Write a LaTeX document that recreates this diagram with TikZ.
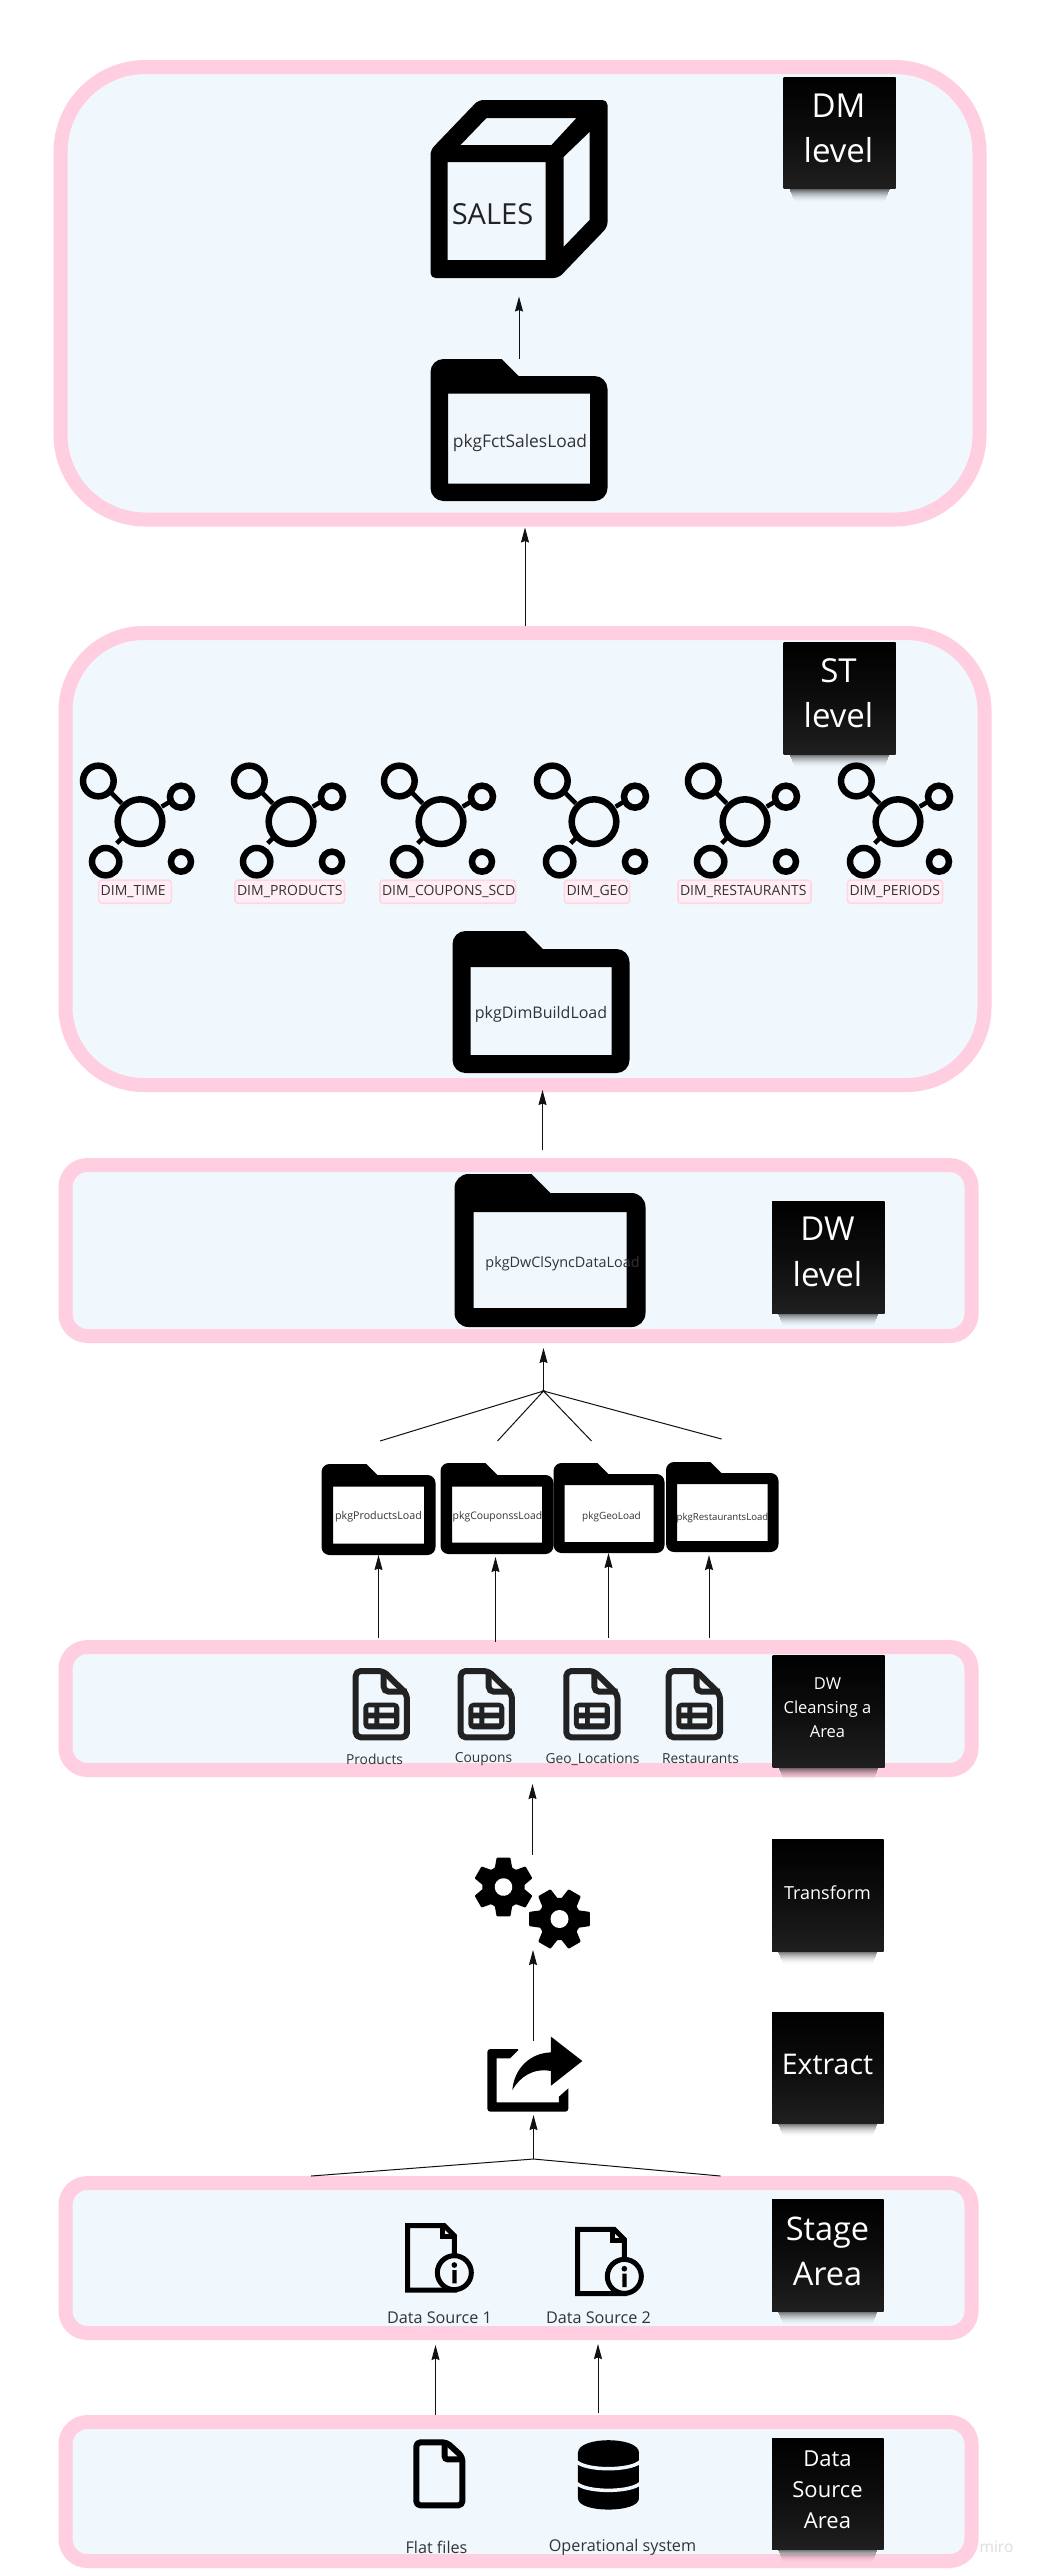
\documentclass[tikz,border=0pt]{standalone}
\usepackage{fontspec}
\setmainfont{Open Sans}
\usetikzlibrary{arrows.meta,fit}
\definecolor{panel}{HTML}{F0F8FE}
\definecolor{rim}{HTML}{FFCEE0}
\definecolor{tagfill}{HTML}{FFEFF5}
\definecolor{tagrim}{HTML}{FFD6E5}
\definecolor{ink}{HTML}{000000}
\definecolor{softink}{HTML}{222222}
\definecolor{labelink}{HTML}{333333}
\definecolor{notelow}{HTML}{1F1F1F}
\definecolor{wire}{HTML}{111111}
\tikzset{
  band/.style={draw=rim,fill=panel,line width=14pt,rounded corners=#1,inner sep=0pt},
  anchorbox/.style={inner sep=0pt,outer sep=0pt},
  noteface/.style={anchorbox,top color=black,bottom color=notelow,middle color=black!95},
  notetext/.style={text=white,align=center,inner sep=0pt},
  flow/.style={draw=wire,line width=1pt,-{Stealth[length=15pt,width=8pt,inset=1.5pt]}},
  twig/.style={draw=wire,line width=1pt},
  caption/.style={text=labelink,inner sep=0pt,font=\fontsize{#1}{#1}\selectfont},
  dimtag/.style={draw=tagrim,fill=tagfill,line width=1.6pt,rounded corners=3pt,minimum height=23pt,
    inner xsep=2pt,inner ysep=0pt,align=left,text=labelink,font=\fontsize{14}{14}\selectfont},
}
% name x1 y1 x2 y2 tabx taby thickness radius
\newcommand{\folderbox}[9]{%
  \node[anchorbox,fit={(#2,#3)(#4,#5)}] (#1) {};
  \fill[ink,even odd rule] (#2,{(#3+#5)/2}) [rounded corners=#9pt] -- (#2,#3) [sharp corners] -- (#6,#3)
     -- (#6+#7-#3,#7) [rounded corners=#9pt] -- (#4,#7) -- (#4,#5) -- (#2,#5) [sharp corners] -- cycle
     (#2+#8,#7+#8) rectangle (#4-#8,#5-#8);
}
% name x1 y1 x2 y2: the card and its soft shadow
\newcommand{\notecard}[5]{%
  \foreach \i in {0,...,13} {
    \pgfmathsetmacro{\shadeop}{0.6*(1-\i/14)*(1-\i/14)}
    \fill[black,opacity=\shadeop] (#2+6+0.4*\i,#5+\i) rectangle (#4-6-0.4*\i,#5+\i+1);
  }
  \node[noteface,fit={(#2,#3)(#4,#5)}] (#1) {};
}
% hub icon at horizontal offset
\newcommand{\hubicon}[1]{%
  \begin{scope}[shift={(71.5+#1,755)},x=0.3333pt,y=-0.3333pt]
    \draw[line width=4.5pt] (125,115) -- (155,145) (275,155) -- (300,140) (140,265) -- (165,240);
    \draw[line width=6.5pt] (210,200) circle[radius=67] (85,78) circle[radius=46]
       (333,125) circle[radius=33] (107,320) circle[radius=41] (333,320) circle[radius=30];
  \end{scope}
}
% table document icon
\newcommand{\tabledoc}[1]{%
  \begin{scope}[shift={(341.5+#1,1660)},x=0.3333pt,y=-0.3333pt]
    \draw[softink,fill=panel,line width=6pt,line join=round,rounded corners=5pt]
       (47,130) -- (47,33) -- (130,33) -- (201,103) -- (201,232) -- (47,232) -- cycle;
    \draw[softink,line width=6pt,rounded corners=5pt] (131,33) -- (131,95) -- (201,95);
    \fill[softink,rounded corners=5pt] (70,128) rectangle (178,208);
    \fill[panel] (85,142) rectangle (103,158) (118,142) rectangle (162,158)
                 (85,175) rectangle (103,190) (118,175) rectangle (162,190);
  \end{scope}
}
% info document icon
\newcommand{\infodoc}[2]{%
  \begin{scope}[shift={(396.5+#1,2215+#2)},x=0.3333pt,y=-0.3333pt]
    \draw[ink,fill=panel,line width=5pt,line join=miter]
       (38,32) -- (148,32) -- (178,62) -- (178,225) -- (38,225) -- cycle;
    \draw[ink,line width=5pt] (143,32) -- (143,65) -- (178,65);
    \draw[ink,fill=panel,line width=5pt] (178,173) circle[radius=51];
    \fill[ink] (178,150) circle[radius=8.5] (172,165) rectangle (185,205);
  \end{scope}
}
% gear: cx cy rotation tip-radius hole-radius
\newcommand{\gearicon}[5]{%
  \begin{scope}[shift={(#1,#2)},rotate=#3]
    \filldraw[ink,line width=2pt,line join=round] (-22:20.5)
      \foreach \a in {0,60,...,300} { -- (\a-22:20.5) -- (\a-12:#4-1) -- (\a+12:#4-1) -- (\a+22:20.5) -- (\a+30:20) } -- cycle;
    \fill[white] (0,0) circle[radius=#5];
  \end{scope}
}
\begin{document}
\begin{tikzpicture}[x=1pt,y=-1pt]
\useasboundingbox (0,0) rectangle (1037,2575);
\fill[white] (0,0) rectangle (1037,2575);
\begin{scope}[xshift=-1.5pt]

% bands
\node[band=85pt,minimum width=919pt,minimum height=452.5pt] (dm) at (521.5,293.25) {};
\node[band=78pt,minimum width=919pt,minimum height=452pt] (st) at (526.5,859) {};
\node[band=22pt,minimum width=906pt,minimum height=171pt] (dw) at (520,1250.5) {};
\node[band=22pt,minimum width=906pt,minimum height=123pt] (cl) at (520,1708.5) {};
\node[band=22pt,minimum width=906pt,minimum height=150pt] (stage) at (520,2258) {};
\node[band=22pt,minimum width=906pt,minimum height=139pt] (src) at (520,2491.5) {};

% notes
\notecard{ndm}{785}{77}{897}{188.5}
\node[notetext,font=\fontsize{33}{45}\selectfont] at (840,128) {DM\\level};
\notecard{nst}{785}{642}{897}{754}
\node[notetext,font=\fontsize{33}{45}\selectfont] at (840,693.5) {ST\\level};
\notecard{ndw}{773.5}{1201}{886}{1313}
\node[notetext,font=\fontsize{33}{46}\selectfont] at (829,1251.5) {DW\\level};
\notecard{ncl}{774}{1655}{886}{1767}
\node[notetext,font=\fontsize{16.5}{24}\selectfont] at (829,1708) {DW\\Cleansing a\\Area};
\notecard{ntr}{773.5}{1839}{885}{1951}
\node[notetext,font=\fontsize{18}{24}\selectfont] at (829,1893) {Transform};
\notecard{nex}{773.5}{2012}{885}{2123}
\node[notetext,font=\fontsize{28.5}{36}\selectfont] at (829,2064) {Extract};
\notecard{nsa}{773.5}{2199}{885}{2311}
\node[notetext,font=\fontsize{32.5}{45}\selectfont] at (829,2251.5) {Stage\\Area};
\notecard{nds}{773.5}{2438}{885}{2549}
\node[notetext,font=\fontsize{22}{31}\selectfont] at (829,2490) {Data\\Source\\Area};

% cube
\node[anchorbox,fit={(432,100)(609,278)}] (sales) {};
\fill[ink,even odd rule,rounded corners=5pt] (480,100) -- (609,100) -- (609,227) -- (560,278) -- (432,278) -- (432,150) -- cycle
  [sharp corners] (449,162) rectangle (547,260)
  (488,118) -- (578,118) -- (553,145) -- (462,145) -- cycle
  (565,157) -- (591,132) -- (591,220) -- (565,247) -- cycle;
\node[text=softink,inner sep=0pt,font=\fontsize{29}{29}\selectfont] at (494,214) {SALES};

% big folders
\folderbox{fct}{432}{359}{609}{501}{503}{376}{17.5}{13}
\node[caption=17.4] at (521.5,443) {pkgFctSalesLoad};
\folderbox{dim}{454}{931}{631}{1073}{526.5}{949}{18}{13}
\node[caption=16] at (542.5,1014) {pkgDimBuildLoad};
\folderbox{dwc}{456}{1174}{647}{1327}{533}{1193}{19}{14}
\node[caption=14.4] at (564,1264) {pkgDwClSyncDataLoad};

% hubs and tags
\hubicon{0}\hubicon{151}\hubicon{301}\hubicon{454}\hubicon{605}\hubicon{758}
\node[dimtag,text width=68.7pt] (dtime) at (136.5,891.7) {DIM\_TIME};
\node[dimtag,text width=105.5pt] (dprod) at (291.25,891.7) {DIM\_PRODUCTS};
\node[dimtag,text width=131.5pt] (dcoup) at (449.25,891.7) {DIM\_COUPONS\_SCD};
\node[dimtag,text width=61pt] (dgeo) at (598.5,891.7) {DIM\_GEO};
\node[dimtag,text width=129pt] (drest) at (746,891.7) {DIM\_RESTAURANTS};
\node[dimtag,text width=91pt] (dper) at (896.5,891.7) {DIM\_PERIODS};

% small folders
\folderbox{fp}{323}{1464}{437}{1555}{368}{1475}{11.5}{8}
\node[caption=10.7] at (380,1517) {pkgProductsLoad};
\folderbox{fc}{442}{1463}{555}{1554}{487}{1475}{11.5}{8}
\node[caption=10.4] at (499,1517) {pkgCouponssLoad};
\folderbox{fg}{555}{1463}{666}{1553}{599}{1474}{11}{8}
\node[caption=10] at (613,1517) {pkgGeoLoad};
\folderbox{fr}{667.5}{1462}{780}{1552}{712}{1473}{11}{8}
\node[caption=9.6] at (724,1518) {pkgRestaurantsLoad};

% table documents
\tabledoc{0}\tabledoc{105}\tabledoc{210.6}\tabledoc{313}
\node[caption=13.8] at (376,1759) {Products};
\node[caption=13.8] at (485,1759) {Coupons};
\node[caption=13.8] at (594,1759) {Geo\_Locations};
\node[caption=13.8] at (702,1759) {Restaurants};

% gears
\node[anchorbox,fit={(475.5,1857)(591,1948)}] (gears) {};
\gearicon{505}{1887}{30}{30}{8.8}
\gearicon{561}{1919}{0}{31}{9}

% share
\node[anchorbox,fit={(488,2037)(583,2112)}] (share) {};
\begin{scope}[shift={(476.5,2025)},x=0.3333pt,y=-0.3333pt]
  \fill[ink,rounded corners=1.5pt] (37,72) -- (133,72) [sharp corners] -- (105,100) -- (65,100) -- (65,232) -- (252,232) -- (252,215) -- (280,190) [rounded corners=3pt] -- (280,260) -- (37,260) -- cycle;
  \fill[ink] (228,35) -- (322,108) -- (228,182) -- (228,138) .. controls (175,128) and (135,155) .. (112,195) .. controls (118,130) and (165,84) .. (228,82) -- cycle;
\end{scope}

% data sources
\infodoc{0}{0}\infodoc{170}{3.7}
\node[caption=16.2] at (441,2318) {Data Source 1};
\node[caption=16.2] at (600,2318) {Data Source 2};

% flat file and database
\begin{scope}[shift={(401.5,2430)},x=0.3333pt,y=-0.3333pt]
  \draw[ink,fill=panel,line width=6pt,line join=round,rounded corners=4pt]
     (49,120) -- (49,37) -- (140,37) -- (187,80) -- (187,226) -- (49,226) -- cycle;
  \draw[ink,line width=6pt,rounded corners=3pt] (134,37) -- (134,88) -- (187,88);
  \fill[ink] (534,68) .. controls (534,18) and (717,18) .. (717,68) -- (717,205)
     .. controls (717,250) and (534,250) .. (534,205) -- cycle;
  \draw[panel,line width=3.5pt] (530,95) .. controls (560,123) and (690,123) .. (721,95);
  \draw[panel,line width=3.5pt] (530,160) .. controls (560,188) and (690,188) .. (721,160);
\end{scope}
\node[caption=16.2] at (438,2547) {Flat files};
\node[caption=16.2] at (624,2547) {Operational system};
\node[text=black!13,inner sep=0pt,font=\fontsize{15.5}{15.5}\selectfont] at (998,2547) {miro};

% connectors
\draw[flow] (fct.north) -- ([yshift=-18.5pt]sales.south);
\draw[flow] (st.north) -- ([xshift=5pt,yshift=-1pt]dm.south);
\draw[flow] ([xshift=24pt,yshift=8pt]dw.north) -- ([xshift=17.5pt,yshift=2pt]st.south);
\coordinate (jdw) at (545,1391);
\coordinate (e1) at (381.5,1441);
\coordinate (e2) at (499,1441);
\coordinate (e3) at (593,1441);
\coordinate (e4) at (723,1439);
\draw[flow] (jdw) -- ([xshift=25pt,yshift=-5pt]dw.south);
\draw[twig] (e1) -- (jdw) -- (e2) (e3) -- (jdw) -- (e4);
\draw[flow] ([xshift=-140pt,yshift=2pt]cl.north) -- (fp.south);
\draw[flow] ([xshift=-23pt,yshift=-2pt]cl.north) -- ([xshift=-1.5pt,yshift=-3pt]fc.south);
\draw[flow] ([xshift=90pt,yshift=2pt]cl.north) -- ([xshift=-0.5pt]fg.south);
\draw[flow] ([xshift=190.5pt,yshift=2pt]cl.north) -- ([xshift=-13.25pt,yshift=-3pt]fr.south);
\draw[flow] ([xshift=0.75pt,yshift=2pt]gears.north) -- ([xshift=14pt,yshift=-7pt]cl.south);
\draw[flow] ([xshift=-1pt,yshift=-4pt]share.north) -- ([xshift=1.25pt,yshift=-2pt]gears.south);
\coordinate (jsh) at (535,2159);
\coordinate (e5) at (312.6,2176);
\coordinate (e6) at (722,2176);
\draw[flow] (jsh) -- ([xshift=-0.5pt,yshift=-3pt]share.south);
\draw[twig] (e5) -- (jsh) -- (e6);
\draw[flow] ([xshift=-83pt]src.north) -- ([xshift=-83pt,yshift=-5pt]stage.south);
\draw[flow] ([xshift=79.5pt,yshift=2pt]src.north) -- ([xshift=79.5pt,yshift=-4pt]stage.south);
\end{scope}
\end{tikzpicture}
\end{document}
